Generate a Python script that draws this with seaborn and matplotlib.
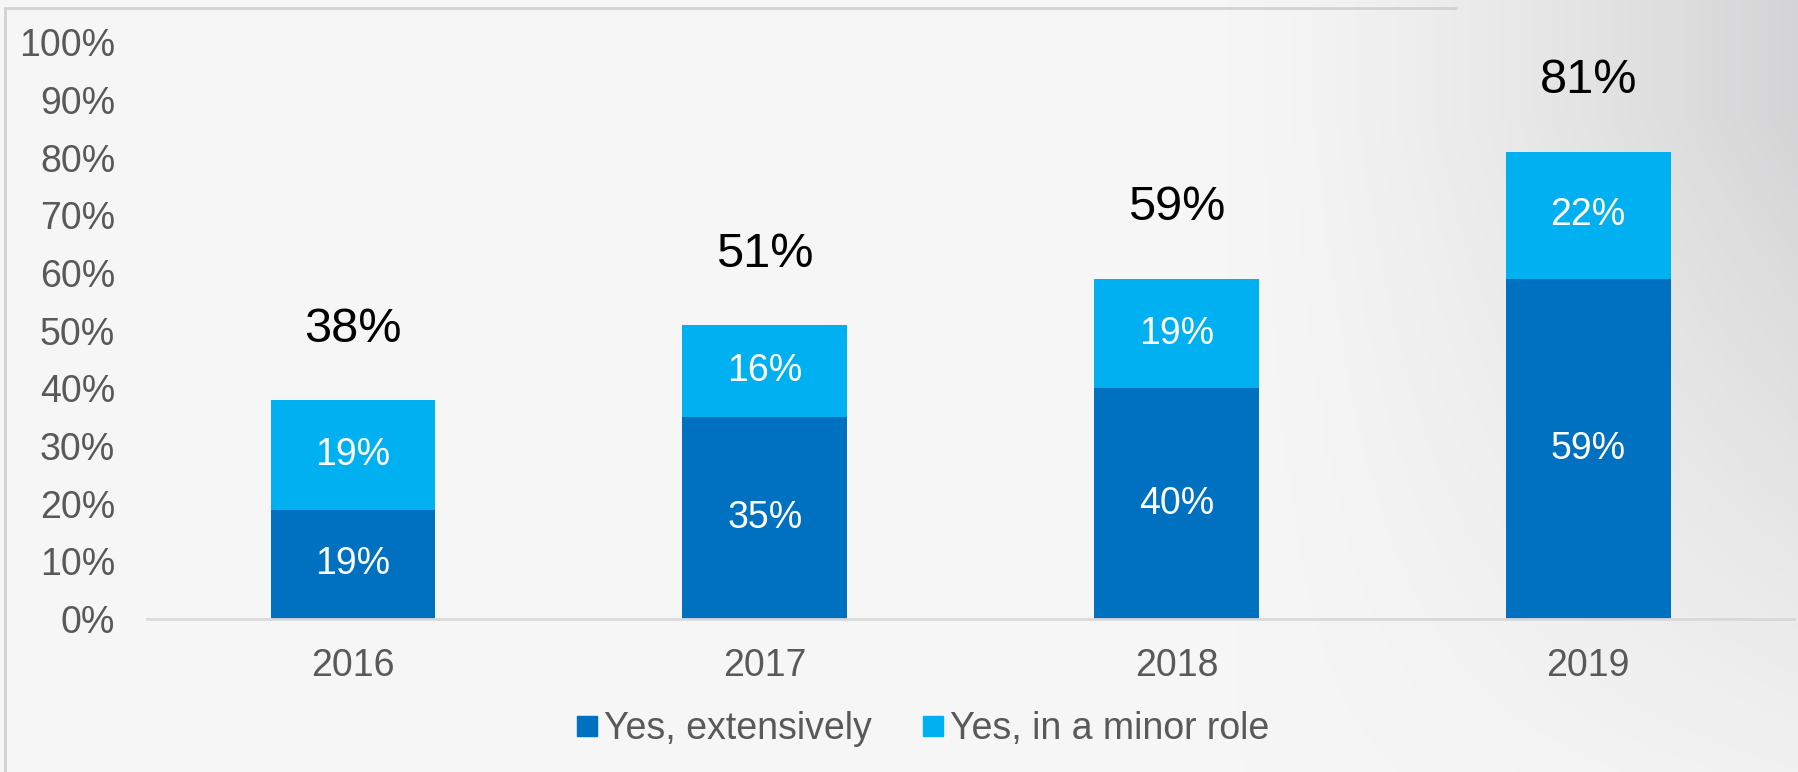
import matplotlib.pyplot as plt
from matplotlib.lines import Line2D
import numpy as np
import pandas as pd
import seaborn as sns

years = ['2016', '2017', '2018', '2019']
extensive = [19, 35, 40, 59]
minor = [19, 16, 19, 22]
legend_labels = ['Yes, extensively', 'Yes, in a minor role']
yticks = [0, 10, 20, 30, 40, 50, 60, 70, 80, 90, 100]

dark_blue = '#0070C0'
light_blue = '#00B0F0'

df = pd.DataFrame({'year': years, 'extensive': extensive, 'minor': minor})
df['total'] = df['extensive'] + df['minor']

sns.set_style('white')
plt.rcParams['font.family'] = ['Liberation Sans', 'DejaVu Sans']

fig = plt.figure(figsize=(17.98, 7.72), dpi=100)

# soft grey slide background, darker towards the top right
bg = fig.add_axes([0, 0, 1, 1], zorder=-10)
gx, gy = np.meshgrid(np.linspace(0, 1, 400), np.linspace(0, 1, 200))
shade = np.clip((gx - 0.68) / 0.32, 0, 1) ** 1.3 * np.clip(1.15 - gy, 0, 1)
val = 0.965 - 0.13 * shade
img = np.dstack([val, val, val + 0.006 * shade])
bg.imshow(np.clip(img, 0, 1), extent=[0, 1, 0, 1], aspect='auto', origin='upper')
bg.plot([0.003, 0.003], [0, 0.989], color='#d2d2d2', lw=2)
bg.plot([0.003, 0.81], [0.989, 0.989], color='#d2d2d2', lw=2)
bg.set_xlim(0, 1)
bg.set_ylim(0, 1)
bg.axis('off')

ax = fig.add_axes([0.0818, 0.198, 0.916, 0.7474])
ax.patch.set_alpha(0)

sns.barplot(data=df, x='year', y='total', color=light_blue, width=0.4,
            saturation=1, linewidth=0, ax=ax)
sns.barplot(data=df, x='year', y='extensive', color=dark_blue, width=0.4,
            saturation=1, linewidth=0, ax=ax)

for i, row in df.iterrows():
    ax.text(i, row['extensive'] / 2, f"{row['extensive']}%", ha='center',
            va='center', color='white', fontsize=27)
    ax.text(i, row['extensive'] + row['minor'] / 2, f"{row['minor']}%",
            ha='center', va='center', color='white', fontsize=27)
    ax.annotate(f"{row['total']}%", (i, row['total']), xytext=(0, 51),
                textcoords='offset points', ha='center', va='center',
                color='black', fontsize=35)

ax.set_ylim(0, 100)
ax.set_xlim(-0.5, 3.5)
ax.set_yticks(yticks)
ax.set_yticklabels([f'{t}%' for t in yticks])
ax.tick_params(axis='both', length=0, labelsize=27, colors='#595959')
ax.tick_params(axis='y', pad=23)
ax.tick_params(axis='x', pad=21)
ax.set_xlabel('')
ax.set_ylabel('')
for side in ['left', 'right', 'top']:
    ax.spines[side].set_visible(False)
ax.spines['bottom'].set_color('#d9d9d9')
ax.spines['bottom'].set_linewidth(2)

handles = [Line2D([], [], marker='s', linestyle='', markersize=14,
                  markerfacecolor=c, markeredgecolor=c)
           for c in [dark_blue, light_blue]]
leg = fig.legend(handles, legend_labels, loc='center', ncol=2,
                 bbox_to_anchor=(0.512, 0.056), frameon=False, fontsize=27,
                 handletextpad=0.05, columnspacing=1.25, handlelength=0.8)
for t in leg.get_texts():
    t.set_color('#595959')

fig.savefig('out.png', dpi=100)
